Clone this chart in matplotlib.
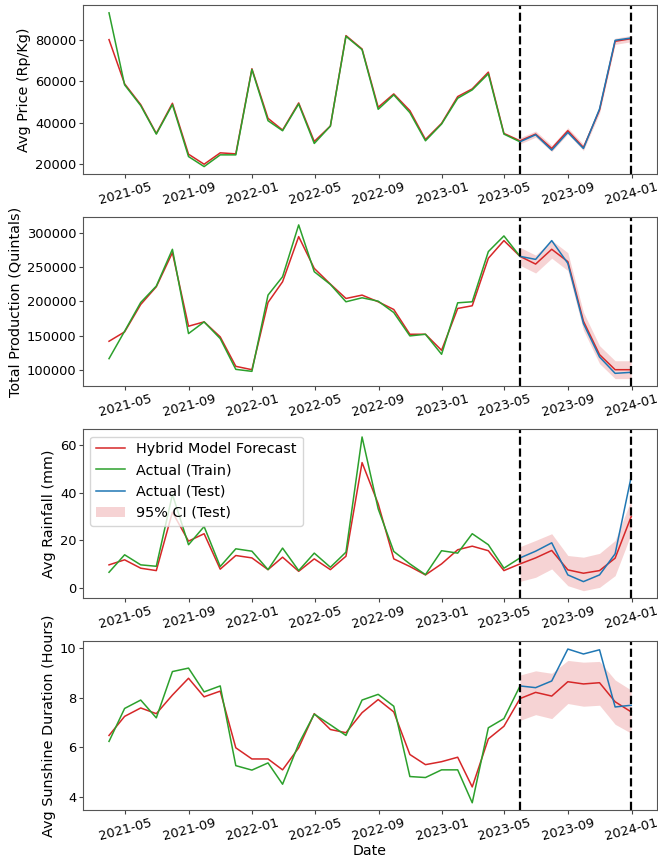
import matplotlib
matplotlib.use("Agg")
import matplotlib.pyplot as plt
import matplotlib.dates as mdates
import pandas as pd
import numpy as np

dates = pd.date_range("2021-03-31", periods=34, freq="ME")
split_idx = 26  # first test point (shared with train end)

price_train = [92900, 58220, 48220, 34500, 48700, 23700, 18870, 24510, 24510, 65640,
               40960, 36130, 49030, 30000, 38380, 81610, 75160, 46450, 53390, 44840,
               31290, 39350, 51770, 55800, 63550, 34510, 30800]
price_test = [30800, 34190, 26770, 35320, 27580, 46610, 79680, 80800]
price_fc = [80000, 58700, 48700, 34800, 49350, 24830, 20000, 25480, 25000, 65970,
            42100, 36450, 49520, 30970, 38380, 81940, 75480, 47420, 53870, 45800,
            31930, 39680, 52580, 56290, 64350, 34830, 31290, 34510, 27580, 36130,
            28060, 46130, 79200, 80480]
price_lo = [29800, 33000, 26100, 34600, 26600, 44600, 77700, 79000]
price_hi = [32800, 36000, 29100, 37600, 29600, 47600, 80700, 82000]

prod_train = [116860, 156700, 198500, 222300, 275750, 153300, 170300, 146000, 101300, 98400,
              209200, 235900, 311200, 243200, 224700, 199500, 205300, 200400, 183900, 149900,
              152300, 123200, 198000, 199500, 272400, 295200, 265500]
prod_test = [265500, 261100, 288400, 255300, 167900, 119300, 95500, 97000]
prod_fc = [142130, 155740, 195580, 221340, 270900, 164000, 170300, 148500, 105700, 100800,
           198500, 228600, 294200, 248000, 225200, 204300, 209200, 199500, 188300, 152300,
           152300, 129000, 189800, 193700, 262700, 288400, 265500, 254300, 275800, 257800,
           171300, 122700, 100800, 100800]
prod_lo = [252500, 241300, 262800, 244800, 158300, 109700, 87800, 87800]
prod_hi = [278500, 267300, 288800, 270800, 184300, 135700, 113800, 113800]

rain_train = [6.7, 14.0, 9.8, 9.2, 39.2, 18.2, 25.8, 9.1, 16.5, 15.5,
              7.8, 16.8, 7.4, 14.7, 8.8, 15.1, 63.2, 33.2, 15.4, 10.2,
              5.7, 15.7, 14.7, 22.8, 18.2, 8.4, 12.7]
rain_test = [12.7, 15.5, 19.0, 5.6, 2.8, 5.6, 14.4, 46.7]
rain_fc = [9.8, 11.9, 8.4, 7.4, 31.8, 19.7, 22.8, 8.0, 13.7, 12.7,
           7.8, 13.0, 7.1, 12.3, 7.8, 13.4, 52.5, 35.3, 12.3, 9.1,
           5.6, 10.2, 16.1, 17.6, 15.7, 7.4, 10.2, 12.7, 15.8, 7.7,
           6.3, 7.4, 12.6, 30.0]
rain_lo = [2.9, 4.6, 8.1, 1.1, -1.0, 0.4, 5.3, 22.8]
rain_hi = [17.4, 20.0, 22.8, 13.7, 13.0, 14.6, 20.0, 37.0]

sun_train = [6.23, 7.56, 7.90, 7.18, 9.05, 9.19, 8.23, 8.47, 5.25, 5.07,
             5.36, 4.50, 6.13, 7.33, 6.90, 6.47, 7.90, 8.13, 7.65, 4.81,
             4.77, 5.08, 5.08, 3.75, 6.78, 7.15, 8.47]
sun_test = [8.47, 8.40, 8.67, 9.96, 9.76, 9.93, 7.62, 7.69]
sun_fc = [6.47, 7.24, 7.58, 7.35, 8.10, 8.78, 8.03, 8.26, 5.97, 5.52,
          5.52, 5.08, 5.97, 7.35, 6.71, 6.58, 7.39, 7.92, 7.42, 5.70,
          5.29, 5.41, 5.59, 4.39, 6.33, 6.84, 7.96, 8.21, 8.06, 8.64,
          8.55, 8.60, 7.83, 7.42]
sun_lo = [7.08, 7.31, 7.15, 7.76, 7.65, 7.69, 6.92, 6.56]
sun_hi = [8.91, 9.08, 8.98, 9.50, 9.43, 9.46, 8.71, 8.30]

ylabels = ["Avg Price (Rp/Kg)", "Total Production (Quintals)",
           "Avg Rainfall (mm)", "Avg Sunshine Duration (Hours)"]
series = [
    (price_train, price_test, price_fc, price_lo, price_hi),
    (prod_train, prod_test, prod_fc, prod_lo, prod_hi),
    (rain_train, rain_test, rain_fc, rain_lo, rain_hi),
    (sun_train, sun_test, sun_fc, sun_lo, sun_hi),
]

fig, axes = plt.subplots(4, 1, figsize=(6.58, 8.59), dpi=100)
fig.subplots_adjust(left=0.126, right=0.999, top=0.994, bottom=0.0565, hspace=0.254)

train_dates = dates[:split_idx + 1]
test_dates = dates[split_idx:]

for i, (ax, (tr, te, fc, lo, hi)) in enumerate(zip(axes, series)):
    ax.plot(dates, fc, color="tab:red", lw=1.1, label="Hybrid Model Forecast")
    ax.plot(train_dates, tr, color="tab:green", lw=1.1, label="Actual (Train)")
    ax.plot(test_dates, te, color="tab:blue", lw=1.1, label="Actual (Test)")
    ax.fill_between(test_dates, lo, hi, color="tab:red", alpha=0.2, lw=0, label="95% CI (Test)")
    ax.axvline(dates[split_idx], color="black", ls="--", lw=1.6)
    ax.axvline(dates[-1], color="black", ls="--", lw=1.6)
    ax.set_ylabel(ylabels[i], fontsize=10.4, labelpad=3)
    ax.xaxis.set_major_locator(mdates.MonthLocator(bymonth=[1, 5, 9]))
    ax.xaxis.set_major_formatter(mdates.DateFormatter("%Y-%m"))
    ax.tick_params(axis="both", labelsize=9.4, length=3, pad=1.5, color="#444444")
    for lab in ax.get_xticklabels():
        lab.set_rotation(15)
        lab.set_ha("center")
    for sp in ax.spines.values():
        sp.set_color("#555555")
    if i == 2:
        ax.legend(loc="upper left", fontsize=10.4)

axes[-1].set_xlabel("Date", fontsize=10.2, labelpad=0.5)

fig.savefig("out.png", dpi=100)
